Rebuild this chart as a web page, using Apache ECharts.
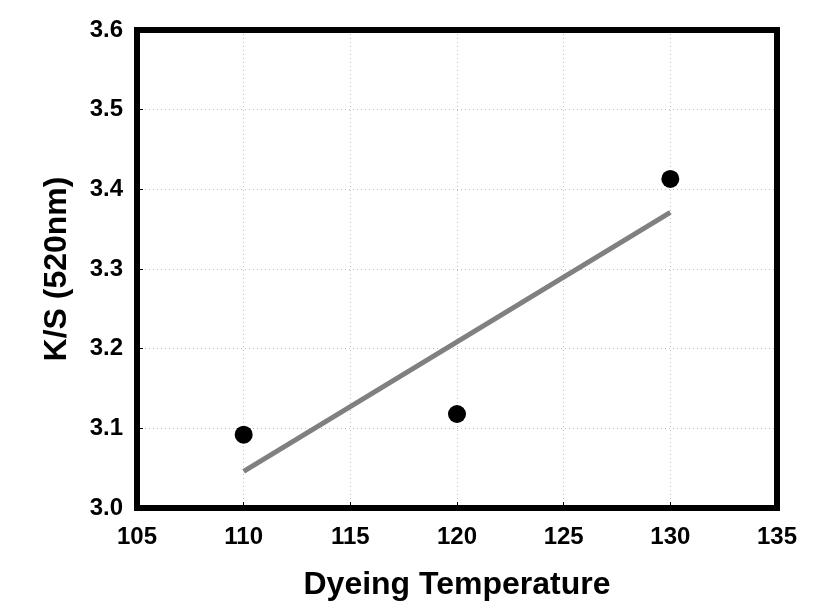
<!DOCTYPE html>
<html><head><meta charset="utf-8">
<script src="https://cdn.jsdelivr.net/npm/echarts@6/dist/echarts.min.js"></script>
<style>html,body{margin:0;padding:0;background:#fff}#c{width:815px;height:613px}</style>
</head><body><div id="c"></div>
<script>
const temperatures = [110, 120, 130];
const ksValues = [3.092, 3.118, 3.413];
const trendX = [110, 130];
const trendY = [3.046, 3.371];
const xTicks = [105, 110, 115, 120, 125, 130, 135];
const yTicks = [3.0, 3.1, 3.2, 3.3, 3.4, 3.5, 3.6];

const font = 'Liberation Sans, Arial, sans-serif';
const frameLine = {show: true, onZero: false, lineStyle: {color: '#000', width: 6, cap: 'square'}};
const grid = {color: '#bbb', type: [1, 3], width: 1};
const chart = echarts.init(document.getElementById('c'));
chart.setOption({
  animation: false,
  backgroundColor: '#fff',
  grid: {left: 137, right: 38, top: 30, bottom: 105},
  xAxis: [{
    type: 'value', position: 'bottom', min: xTicks[0], max: xTicks[xTicks.length-1], interval: 5,
    name: 'Dyeing Temperature', nameLocation: 'middle', nameGap: 61,
    nameTextStyle: {fontFamily: font, fontWeight: 'bold', fontSize: 32, color: '#000'},
    axisLine: frameLine,
    axisTick: {show: true, inside: true, length: 6, lineStyle: {color: '#000', width: 1}},
    axisLabel: {fontFamily: font, fontWeight: 'bold', fontSize: 24, color: '#000', margin: 17},
    splitLine: {show: true, lineStyle: grid}
  }, {
    type: 'value', position: 'top', min: xTicks[0], max: xTicks[xTicks.length-1], interval: 5,
    axisLine: frameLine, axisTick: {show: false}, axisLabel: {show: false}, splitLine: {show: false}
  }],
  yAxis: [{
    type: 'value', position: 'left', min: yTicks[0], max: yTicks[yTicks.length-1], interval: 0.1,
    name: 'K/S (520nm)', nameLocation: 'middle', nameGap: 64, nameRotate: 90,
    nameTextStyle: {fontFamily: font, fontWeight: 'bold', fontSize: 32, color: '#000'},
    axisLine: frameLine,
    axisTick: {show: true, inside: true, length: 6, lineStyle: {color: '#000', width: 1}},
    axisLabel: {fontFamily: font, fontWeight: 'bold', fontSize: 24, color: '#000', margin: 14, formatter: v => v.toFixed(1)},
    splitLine: {show: true, lineStyle: grid}
  }, {
    type: 'value', position: 'right', min: yTicks[0], max: yTicks[yTicks.length-1], interval: 0.1,
    axisLine: frameLine, axisTick: {show: false}, axisLabel: {show: false}, splitLine: {show: false}
  }],
  series: [
    {type: 'line', data: trendX.map((x, i) => [x, trendY[i]]), showSymbol: false, symbol: 'none',
     lineStyle: {color: '#808080', width: 5}, z: 2},
    {type: 'scatter', data: temperatures.map((x, i) => [x, ksValues[i]]), symbol: 'circle', symbolSize: 18,
     itemStyle: {color: '#000', opacity: 1}, z: 3}
  ]
});
</script></body></html>
